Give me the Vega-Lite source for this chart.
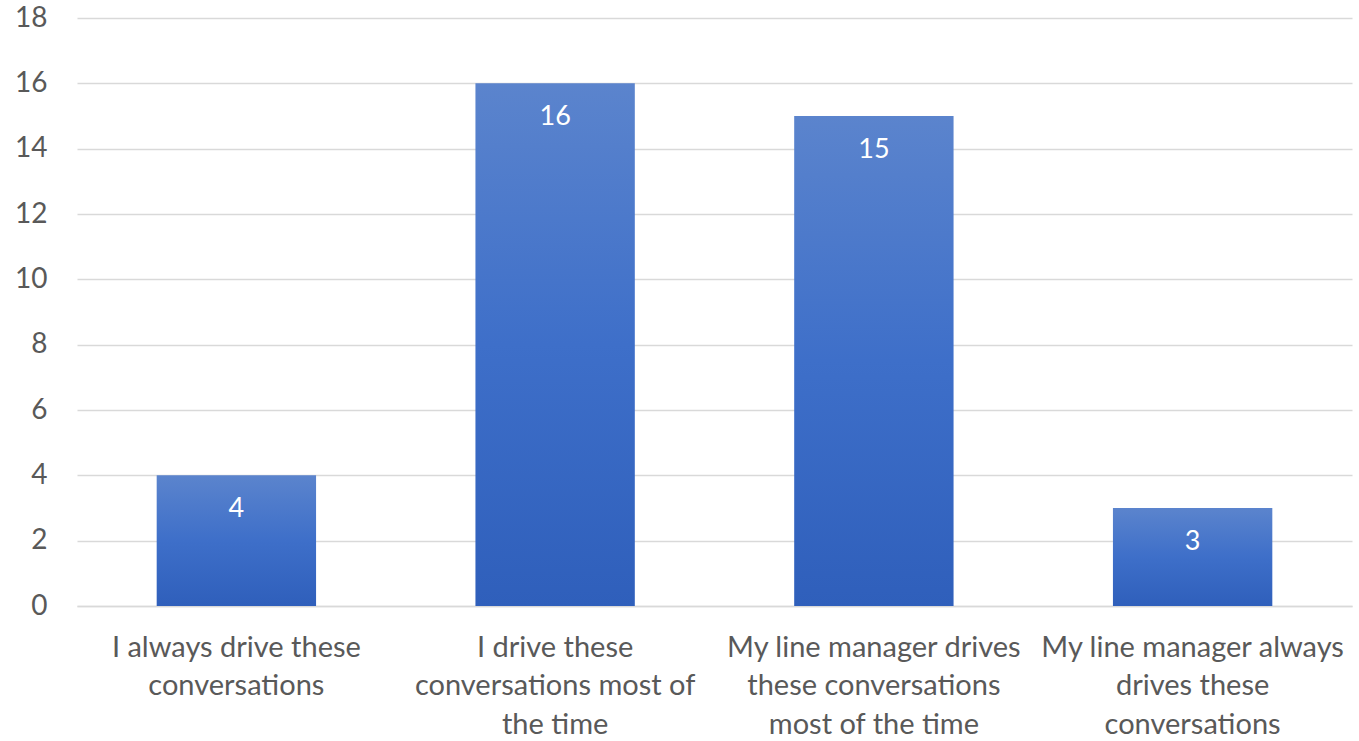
{
  "$schema": "https://vega.github.io/schema/vega-lite/v6.json",
  "autosize": "none",
  "width": 1275,
  "height": 588,
  "padding": {"left": 77, "top": 18, "right": 7, "bottom": 135},
  "background": "white",
  "data": {"values": [
    {"category": "I always drive these conversations", "count": 4},
    {"category": "I drive these conversations most of the time", "count": 16},
    {"category": "My line manager drives these conversations most of the time", "count": 15},
    {"category": "My line manager always drives these conversations", "count": 3}
  ]},
  "encoding": {
    "x": {
      "field": "category", "type": "nominal", "sort": null,
      "scale": {"paddingInner": 0.5, "paddingOuter": 0.25},
      "axis": {
        "title": null, "labelAngle": 0, "ticks": false, "domainColor": "#d9d9d9", "domainWidth": 1.5,
        "labelFont": "Lato", "labelFontSize": 29, "labelColor": "#595959", "labelPadding": 27,
        "labelLineHeight": 38.5, "labelBaseline": "top", "labelLimit": 400,
        "labelExpr": "datum.value == 'I always drive these conversations' ? ['I always drive these', 'conversations'] : datum.value == 'I drive these conversations most of the time' ? ['I drive these', 'conversations most of', 'the time'] : datum.value == 'My line manager drives these conversations most of the time' ? ['My line manager drives', 'these conversations', 'most of the time'] : ['My line manager always', 'drives these', 'conversations']"
      }
    },
    "y": {
      "field": "count", "type": "quantitative",
      "scale": {"domain": [0, 18]},
      "axis": {
        "title": null, "values": [0, 2, 4, 6, 8, 10, 12, 14, 16, 18], "domain": false, "ticks": false,
        "gridColor": "#d9d9d9", "gridWidth": 1.5,
        "labelFont": "Lato", "labelFontSize": 28, "labelColor": "#595959", "labelPadding": 30
      }
    }
  },
  "layer": [
    {
      "mark": {
        "type": "bar",
        "color": {"gradient": "linear", "x1": 0, "y1": 0, "x2": 0, "y2": 1,
          "stops": [{"offset": 0, "color": "#5b84cd"}, {"offset": 0.5, "color": "#3e6fc9"}, {"offset": 1, "color": "#2f5fbb"}]}
      }
    },
    {
      "mark": {"type": "text", "color": "white", "font": "Lato", "fontSize": 27, "baseline": "top", "dy": 21},
      "encoding": {"text": {"field": "count", "type": "quantitative"}}
    }
  ],
  "config": {"view": {"stroke": null}}
}
